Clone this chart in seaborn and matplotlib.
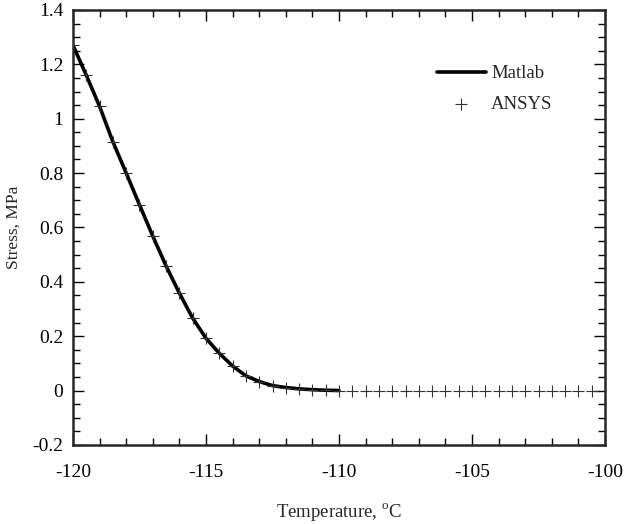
import numpy as np
import pandas as pd
import matplotlib
matplotlib.use("Agg")
import matplotlib.pyplot as plt
from matplotlib.ticker import MultipleLocator
import seaborn as sns

# Matlab solution (-120 .. -110 C)
matlab_temp = [-120, -119.5, -119, -118.5, -118, -117.5, -117, -116.5, -116, -115.5,
               -115, -114.5, -114, -113.5, -113, -112.5, -112, -111.5, -111, -110.5, -110]
matlab_stress = [1.27, 1.16, 1.045, 0.915, 0.80, 0.683, 0.568, 0.458, 0.358, 0.266,
                 0.192, 0.137, 0.090, 0.054, 0.033, 0.018, 0.011, 0.006, 0.003, 0.001, 0.0]

# ANSYS solution (-120 .. -100.5 C)
ansys_temp = [-120, -119.5, -119, -118.5, -118, -117.5, -117, -116.5, -116, -115.5,
              -115, -114.5, -114, -113.5, -113, -112.5, -112, -111.5, -111, -110.5,
              -110, -109.5, -109, -108.5, -108, -107.5, -107, -106.5, -106, -105.5,
              -105, -104.5, -104, -103.5, -103, -102.5, -102, -101.5, -101, -100.5]
ansys_stress = [1.27, 1.16, 1.045, 0.915, 0.80, 0.683, 0.568, 0.458, 0.358, 0.266,
                0.192, 0.137, 0.090, 0.054, 0.033, 0.018, 0.011, 0.006, 0.003, 0.001,
                0, 0, 0, 0, 0, 0, 0, 0, 0, 0,
                0, 0, 0, 0, 0, 0, 0, 0, 0, 0]

df_m = pd.DataFrame({"T": matlab_temp, "S": matlab_stress})
df_a = pd.DataFrame({"T": ansys_temp, "S": ansys_stress})

sns.set_style("ticks")
plt.rcParams["font.family"] = ["Liberation Serif", "DejaVu Serif"]
plt.rcParams["mathtext.fontset"] = "custom"
plt.rcParams["mathtext.rm"] = "Liberation Serif"
plt.rcParams["axes.unicode_minus"] = False

fig = plt.figure(figsize=(6.27, 5.24), dpi=100)
ax = fig.add_axes([0.1164, 0.151, 0.8486, 0.830])

sns.lineplot(data=df_m, x="T", y="S", ax=ax, color="black", linewidth=2.6,
             label="Matlab")
sns.scatterplot(data=df_a, x="T", y="S", ax=ax, marker="+", color="#333333",
                s=80, linewidth=0.8, label="ANSYS", zorder=3)

ax.set_xlim(-120, -100)
ax.set_ylim(-0.2, 1.4)
ax.xaxis.set_major_locator(MultipleLocator(5))
ax.xaxis.set_minor_locator(MultipleLocator(1))
ax.yaxis.set_major_locator(MultipleLocator(0.2))
ax.yaxis.set_minor_locator(MultipleLocator(0.05))
ax.xaxis.set_major_formatter(plt.FuncFormatter(lambda v, p: f"{v:g}"))
ax.yaxis.set_major_formatter(plt.FuncFormatter(lambda v, p: f"{v:g}"))

ax.tick_params(which="both", direction="in", top=True, right=True, labelsize=14,
               width=1.0, colors="black")
ax.tick_params(axis="x", which="major", length=8, pad=14)
ax.tick_params(axis="y", which="major", length=8, pad=7)
ax.tick_params(which="minor", length=5)
for sp in ax.spines.values():
    sp.set_linewidth(1.8)
    sp.set_visible(True)

ax.set_xlabel(r"Temperature, $^{\mathrm{o}}$C", fontsize=13.5, labelpad=14)
ax.set_ylabel("Stress, MPa", fontsize=12.5, labelpad=8)

leg = ax.legend(loc="upper left", bbox_to_anchor=(0.652, 0.912), frameon=False,
                fontsize=13.5, handlelength=2.6, handletextpad=0.3, labelspacing=0.75)

fig.savefig("out.png", dpi=100)
